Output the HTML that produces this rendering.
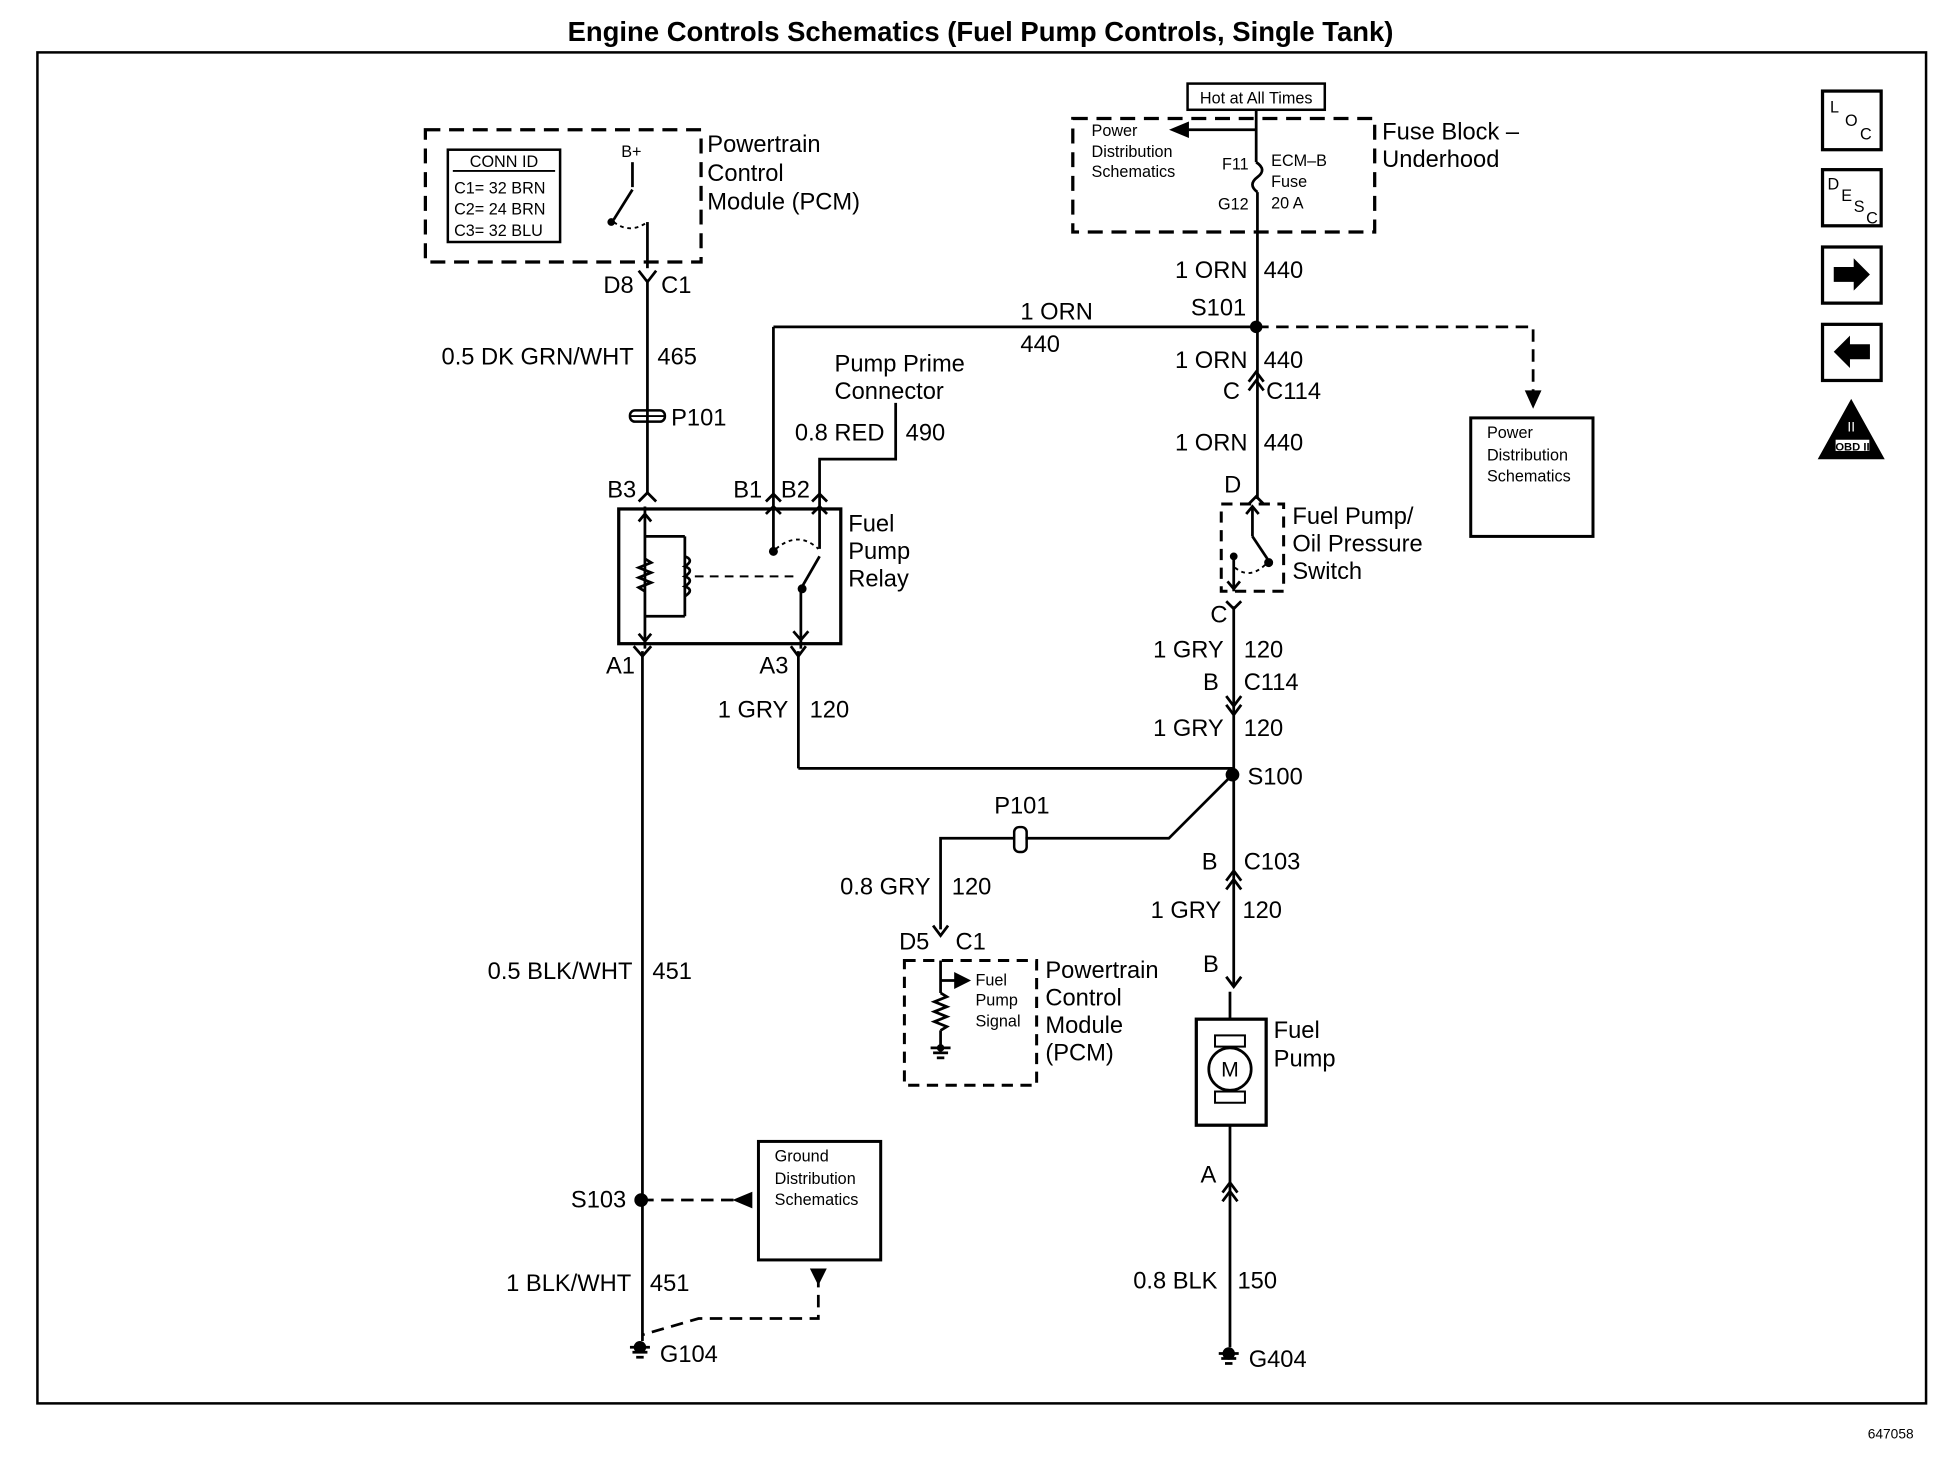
<!DOCTYPE html>
<html><head><meta charset="utf-8"><style>
html,body{margin:0;padding:0;background:#fff;}
svg{display:block;}
text{font-family:"Liberation Sans",sans-serif;fill:#000;}
</style></head><body>
<svg width="1956" height="1472" viewBox="0 0 1568 1180" xmlns="http://www.w3.org/2000/svg">
<g stroke="#000" stroke-width="2.2" fill="none">
<!-- border -->
<rect x="30" y="42" width="1514" height="1083" stroke-width="2"/>
<!-- top PCM dashed box -->
<rect x="341" y="104" width="221" height="106" stroke-dasharray="12,7" stroke-width="2.6"/>
<rect x="359" y="120" width="90" height="74" stroke-width="2"/>
<line x1="363" y1="137" x2="445" y2="137" stroke-width="1.5"/>
<!-- B+ switch -->
<line x1="507" y1="130" x2="507" y2="150"/>
<line x1="507" y1="152" x2="492" y2="176"/>
<circle cx="490" cy="178" r="2" fill="#000"/>
<path d="M492 178 Q505 188 519 178" stroke-dasharray="3,3" stroke-width="1.5"/>
<line x1="519" y1="178" x2="519" y2="215"/>
<!-- D8 connector -->
<path d="M512 217 L519 226 L526 217"/>
<line x1="519" y1="224" x2="519" y2="395"/>
<!-- P101 -->
<rect x="505" y="329" width="28" height="9" rx="4" stroke-width="2"/>
<line x1="505" y1="333.5" x2="533" y2="333.5" stroke-width="1.5"/>
<path d="M512 402 L519 395 L526 402"/>
<!-- relay box -->
<rect x="496" y="408" width="178" height="108" stroke-width="2.6"/>
<line x1="517" y1="406" x2="517" y2="520"/>
<path d="M512 418 L517 412 L522 418"/>
<line x1="517" y1="430" x2="549" y2="430"/>
<line x1="549" y1="430" x2="549" y2="494"/>
<line x1="517" y1="494" x2="549" y2="494"/>
<path d="M517 448 l5 3 l-10 4 l10 4 l-10 4 l10 4 l-10 4 l5 3"/>
<path d="M549 446 q8 3 0 8 q8 3 0 8 q8 3 0 8 q8 3 0 8"/>
<line x1="557" y1="462" x2="640" y2="462" stroke-dasharray="7,5" stroke-width="1.6"/>
<path d="M512 508 L517 514 L522 508"/>
<!-- B1 -->
<line x1="620" y1="262" x2="620" y2="440"/>
<path d="M614 402 L620 396 L626 402"/>
<path d="M614 412 L620 406 L626 412"/>
<circle cx="620" cy="442" r="2.5" fill="#000"/>
<!-- B2 -->
<path d="M657 440 L657 368 L718 368 L718 323"/>
<path d="M651 402 L657 396 L663 402"/>
<path d="M651 412 L657 406 L663 412"/>
<path d="M622 440 Q640 425 656 440" stroke-dasharray="3,3" stroke-width="1.5"/>
<line x1="657" y1="446" x2="642" y2="472"/>
<circle cx="643" cy="472" r="2.5" fill="#000"/>
<line x1="642" y1="474" x2="642" y2="520"/>
<path d="M636 506 L642 513 L648 506"/>
<path d="M634 518 L640 526 L646 518"/>
<line x1="640" y1="522" x2="640" y2="616"/>
<line x1="640" y1="616" x2="988" y2="616"/>
<path d="M508 518 L515 526 L522 518"/>
<line x1="515" y1="522" x2="515" y2="1075"/>
<!-- top horizontal 440 -->
<line x1="620" y1="262" x2="1007" y2="262"/>
<!-- fuse block -->
<rect x="860" y="95" width="242" height="91" stroke-dasharray="12,7" stroke-width="2.6"/>
<rect x="952" y="67" width="110" height="21" stroke-width="2"/>
<line x1="1007" y1="88" x2="1007" y2="130"/>
<line x1="1007" y1="104" x2="945" y2="104"/>
<path d="M952 99 L940 104 L952 109 Z" fill="#000"/>
<path d="M1007 130 Q1016 136 1008 142 Q1000 148 1008 154"/>
<line x1="1008" y1="154" x2="1008" y2="400"/>
<!-- S101 dashed -->
<path d="M1007 262 L1229 262 L1229 318" stroke-dasharray="10,6"/>
<path d="M1224 314 L1229 325 L1234 314 Z" fill="#000"/>
<rect x="1179" y="335" width="98" height="95" stroke-width="2.4"/>
<!-- C114 top -->
<path d="M1001 306 L1007 298 L1013 306"/>
<path d="M1001 313 L1007 305 L1013 313"/>
<path d="M1001 404 L1007 398 L1013 404"/>
<!-- switch box -->
<rect x="979" y="404" width="50" height="70" stroke-dasharray="9,6" stroke-width="2.4"/>
<path d="M999 412 L1004 406 L1009 412"/>
<line x1="1004" y1="406" x2="1004" y2="430"/>
<line x1="1004" y1="430" x2="1016" y2="448"/>
<circle cx="1017" cy="451" r="2.5" fill="#000"/>
<path d="M990 455 Q1002 465 1015 452" stroke-dasharray="3,3" stroke-width="1.5"/>
<line x1="989" y1="446" x2="989" y2="474"/>
<circle cx="989" cy="446" r="2" fill="#000"/>
<path d="M984 466 L989 472 L994 466"/>
<path d="M983 482 L989 488 L995 482"/>
<line x1="989" y1="486" x2="989" y2="790"/>
<path d="M983 558 L989 566 L995 558"/>
<path d="M983 565 L989 573 L995 565"/>
<!-- S100 diag -->
<path d="M988 621 L937 672 L822 672"/>
<rect x="813" y="663" width="10" height="20" rx="4" stroke-width="2"/>
<path d="M813 672 L754 672 L754 745"/>
<path d="M748 742 L754 750 L760 742"/>
<path d="M983 706 L989 698 L995 706"/>
<path d="M983 713 L989 705 L995 713"/>
<path d="M983 783 L989 791 L995 783"/>
<!-- fuel pump -->
<rect x="959" y="817" width="56" height="85" stroke-width="2.6"/>
<line x1="986" y1="795" x2="986" y2="817"/>
<rect x="974" y="830" width="24" height="9" stroke-width="1.6"/>
<rect x="974" y="875" width="24" height="9" stroke-width="1.6"/>
<circle cx="986" cy="857" r="17"/>
<line x1="986" y1="902" x2="986" y2="1080"/>
<path d="M980 956 L986 948 L992 956"/>
<path d="M980 963 L986 955 L992 963"/>
<!-- bottom PCM -->
<rect x="725" y="770" width="106" height="100" stroke-dasharray="9,6" stroke-width="2.4"/>
<line x1="754" y1="770" x2="754" y2="796"/>
<line x1="754" y1="786" x2="770" y2="786"/>
<path d="M766 781 L776 786 L766 791 Z" fill="#000"/>
<path d="M754 796 l5 3 l-10 4 l10 4 l-10 4 l10 4 l-10 4 l10 4 l-5 3"/>
<line x1="754" y1="826" x2="754" y2="840"/>
<line x1="746" y1="840" x2="762" y2="840"/>
<line x1="748" y1="844" x2="760" y2="844"/>
<line x1="751" y1="848" x2="757" y2="848"/>
<!-- ground distribution -->
<rect x="608" y="915" width="98" height="95" stroke-width="2.4"/>
<line x1="514" y1="962" x2="592" y2="962" stroke-dasharray="10,6"/>
<path d="M602 957 L590 962 L602 967 Z" fill="#000"/>
<path d="M656 1022 L656 1057 L560 1057 L515 1070" stroke-dasharray="10,6"/>
<path d="M651 1018 L661 1018 L656 1028 Z" fill="#000"/>
<!-- grounds -->
<line x1="505" y1="1080" x2="521" y2="1080"/><line x1="507" y1="1084" x2="519" y2="1084"/><line x1="510" y1="1088" x2="516" y2="1088"/>
<line x1="977" y1="1085" x2="993" y2="1085"/><line x1="979" y1="1089" x2="991" y2="1089"/><line x1="982" y1="1093" x2="988" y2="1093"/>
<!-- icons -->
<rect x="1461" y="73" width="47" height="47" stroke-width="2.6"/>
<rect x="1461" y="136" width="47" height="45" stroke-width="2.6"/>
<rect x="1461" y="198" width="47" height="45" stroke-width="2.6"/>
<rect x="1461" y="260" width="47" height="45" stroke-width="2.6"/>
<path d="M1484 322 L1459 367 L1509 367 Z" fill="#000"/>
</g>
<g fill="#000">
<circle cx="1007" cy="262" r="5"/>
<circle cx="988" cy="621" r="5.5"/>
<circle cx="514" cy="962" r="5.5"/>
<circle cx="513" cy="1080" r="5"/>
<circle cx="985" cy="1085" r="5"/>
<circle cx="754" cy="840" r="3"/>
<path d="M1470 214 L1486 214 L1486 207 L1499 220 L1486 233 L1486 226 L1470 226 Z"/>
<path d="M1499 276 L1483 276 L1483 269 L1470 282 L1483 295 L1483 288 L1499 288 Z"/>
</g>
<rect x="1471" y="352" width="28" height="10" fill="#fff" stroke="#000" stroke-width="1"/>
<text x="1485" y="361" font-size="9" font-weight="bold" text-anchor="middle">OBD II</text>
<text x="1484" y="346" font-size="11" text-anchor="middle" fill="#fff" style="fill:#fff">II</text>

<text x="786" y="33" font-size="22" font-weight="bold" text-anchor="middle">Engine Controls Schematics (Fuel Pump Controls, Single Tank)</text>
<text x="1534" y="1153" font-size="11" text-anchor="end">647058</text>

<g font-size="19">
<text x="567" y="122">Powertrain</text>
<text x="567" y="145">Control</text>
<text x="567" y="168">Module (PCM)</text>
<text x="508" y="235" text-anchor="end">D8</text>
<text x="530" y="235">C1</text>
<text x="508" y="292" text-anchor="end">0.5 DK GRN/WHT</text>
<text x="527" y="292">465</text>
<text x="538" y="341">P101</text>
<text x="510" y="399" text-anchor="end">B3</text>
<text x="611" y="399" text-anchor="end">B1</text>
<text x="626" y="399">B2</text>
<text x="669" y="298">Pump Prime</text>
<text x="669" y="320">Connector</text>
<text x="709" y="353" text-anchor="end">0.8 RED</text>
<text x="726" y="353">490</text>
<text x="680" y="426">Fuel</text>
<text x="680" y="448">Pump</text>
<text x="680" y="470">Relay</text>
<text x="509" y="540" text-anchor="end">A1</text>
<text x="632" y="540" text-anchor="end">A3</text>
<text x="632" y="575" text-anchor="end">1 GRY</text>
<text x="649" y="575">120</text>
<text x="818" y="256">1 ORN</text>
<text x="818" y="282">440</text>
<text x="1000" y="223" text-anchor="end">1 ORN</text>
<text x="1013" y="223">440</text>
<text x="999" y="253" text-anchor="end">S101</text>
<text x="1000" y="295" text-anchor="end">1 ORN</text>
<text x="1013" y="295">440</text>
<text x="994" y="320" text-anchor="end">C</text>
<text x="1015" y="320">C114</text>
<text x="1000" y="361" text-anchor="end">1 ORN</text>
<text x="1013" y="361">440</text>
<text x="995" y="395" text-anchor="end">D</text>
<text x="1036" y="420">Fuel Pump/</text>
<text x="1036" y="442">Oil Pressure</text>
<text x="1036" y="464">Switch</text>
<text x="984" y="499" text-anchor="end">C</text>
<text x="981" y="527" text-anchor="end">1 GRY</text>
<text x="997" y="527">120</text>
<text x="977" y="553" text-anchor="end">B</text>
<text x="997" y="553">C114</text>
<text x="981" y="590" text-anchor="end">1 GRY</text>
<text x="997" y="590">120</text>
<text x="1000" y="629">S100</text>
<text x="797" y="652">P101</text>
<text x="746" y="717" text-anchor="end">0.8 GRY</text>
<text x="763" y="717">120</text>
<text x="976" y="697" text-anchor="end">B</text>
<text x="997" y="697">C103</text>
<text x="979" y="736" text-anchor="end">1 GRY</text>
<text x="996" y="736">120</text>
<text x="977" y="779" text-anchor="end">B</text>
<text x="745" y="761" text-anchor="end">D5</text>
<text x="766" y="761">C1</text>
<text x="838" y="784">Powertrain</text>
<text x="838" y="806">Control</text>
<text x="838" y="828">Module</text>
<text x="838" y="850">(PCM)</text>
<text x="1021" y="832">Fuel</text>
<text x="1021" y="855">Pump</text>
<text x="507" y="785" text-anchor="end">0.5 BLK/WHT</text>
<text x="523" y="785">451</text>
<text x="502" y="968" text-anchor="end">S103</text>
<text x="506" y="1035" text-anchor="end">1 BLK/WHT</text>
<text x="521" y="1035">451</text>
<text x="529" y="1092">G104</text>
<text x="975" y="948" text-anchor="end">A</text>
<text x="976" y="1033" text-anchor="end">0.8 BLK</text>
<text x="992" y="1033">150</text>
<text x="1001" y="1096">G404</text>
<text x="1108" y="112">Fuse Block –</text>
<text x="1108" y="134">Underhood</text>
</g>
<text x="986" y="863" font-size="17" text-anchor="middle">M</text>
<g font-size="13">
<text x="404" y="134" text-anchor="middle">CONN ID</text>
<text x="364" y="155">C1= 32 BRN</text>
<text x="364" y="172">C2= 24 BRN</text>
<text x="364" y="189">C3= 32 BLU</text>
<text x="498" y="126">B+</text>
<text x="1007" y="83" text-anchor="middle">Hot at All Times</text>
<text x="875" y="109">Power</text>
<text x="875" y="126">Distribution</text>
<text x="875" y="142">Schematics</text>
<text x="1001" y="136" text-anchor="end">F11</text>
<text x="1019" y="133">ECM–B</text>
<text x="1019" y="150">Fuse</text>
<text x="1019" y="167">20 A</text>
<text x="1001" y="168" text-anchor="end">G12</text>
<text x="1192" y="351">Power</text>
<text x="1192" y="369">Distribution</text>
<text x="1192" y="386">Schematics</text>
<text x="621" y="931">Ground</text>
<text x="621" y="949">Distribution</text>
<text x="621" y="966">Schematics</text>
<text x="782" y="790">Fuel</text>
<text x="782" y="806">Pump</text>
<text x="782" y="823">Signal</text>
<text x="1467" y="90">L</text><text x="1479" y="101">O</text><text x="1491" y="112">C</text>
<text x="1465" y="152">D</text><text x="1476" y="161">E</text><text x="1486" y="170">S</text><text x="1496" y="179">C</text>
</g>
</svg>
</body></html>
